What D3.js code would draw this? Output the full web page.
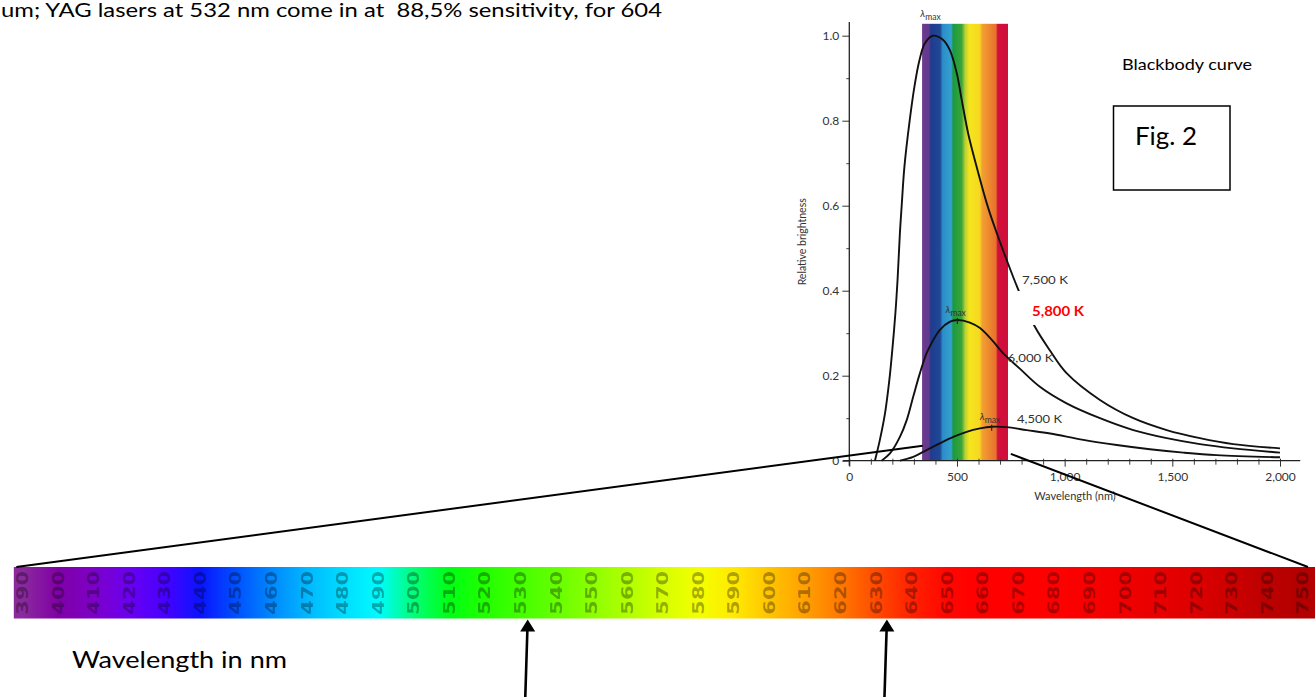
<!DOCTYPE html>
<html>
<head>
<meta charset="utf-8">
<script src="https://cdn.jsdelivr.net/npm/d3@7"></script>
<style>
body { margin: 0; background: #fff; }
svg { display: block; }
</style>
</head>
<body>
<div id="chart"></div>
<script>
// blackbody curves: [wavelength nm, relative brightness]
var curve7500 = [[119,0],[142,0.049],[166,0.112],[186,0.19],[201,0.268],[214,0.347],[224,0.425],[235,0.536],[243,0.598],[256,0.692],[280,0.799],[303,0.882],[326,0.943],[351,0.982],[387,1.0],[436,0.99],[467,0.966],[499,0.912],[522,0.849],[552,0.77],[591,0.692],[638,0.606],[676,0.548],[731,0.472],[785,0.402],[862,0.315],[931,0.26],[1009,0.206],[1164,0.143],[1319,0.1],[1474,0.072],[1628,0.053],[1783,0.039],[2000,0.029]];
var curve6000 = [[150,0],[189,0.017],[235,0.056],[267,0.096],[297,0.151],[328,0.206],[359,0.253],[390,0.284],[421,0.308],[468,0.327],[502,0.331],[560,0.325],[607,0.312],[669,0.28],[714,0.253],[793,0.216],[885,0.174],[1009,0.135],[1164,0.1],[1319,0.072],[1474,0.053],[1628,0.039],[1783,0.029],[2000,0.019]];
var curve4500 = [[235,0],[297,0.009],[359,0.025],[421,0.041],[483,0.056],[545,0.068],[607,0.076],[661,0.08],[731,0.079],[824,0.072],[933,0.064],[1087,0.049],[1242,0.037],[1396,0.027],[1551,0.019],[1706,0.013],[2000,0.008]];

var xTicks = [0, 500, 1000, 1500, 2000];
var xMinor = [100, 200, 300, 400, 600, 700, 800, 900, 1100, 1200, 1300, 1400, 1600, 1700, 1800, 1900];
var yTicks = [0, 0.2, 0.4, 0.6, 0.8, 1.0];
var yMinor = [0.1, 0.3, 0.5, 0.7, 0.9];

var bandRange = [338, 737];      // visible band drawn inside the chart
var bandTop = 1.028;
var peakNm = [385, 502, 661];    // lambda max marks
var peakVal = [1.028, 0.331, 0.080];

// spectrum strip
var stripLabels = [390,400,410,420,430,440,450,460,470,480,490,500,510,520,530,540,550,560,570,580,590,600,610,620,630,640,650,660,670,680,690,700,710,720,730,740,750];
var stripColors = ["#8a2a9c","#8000a6","#7d00c8","#6a00f0","#4800ff","#0a14ff","#0050ff","#0088ff","#00b8ff","#00dcff","#00fbff","#00ff78","#00ff14","#22ff00","#44ff00","#66ff00","#8cff00","#b0ff00","#d6ff00","#f4ff00","#ffea00","#ffc400","#ffa000","#ff7800","#ff4a00","#ff2200","#ff0600","#ff0000","#ff0000","#ff0000","#f80000","#f00000","#e80000","#dc0000","#cc0000","#bc0000","#b40000"];
var laserNm = [532, 633];

var width = 1315, height = 697;

var svg = d3.select("#chart").append("svg")
    .attr("width", width).attr("height", height);
svg.append("rect").attr("width", width).attr("height", height).attr("fill", "#fff");

var xScale = d3.scaleLinear().domain([0, 2000]).range([849.3, 1280]);
var yScale = d3.scaleLinear().domain([0, 1]).range([460.7, 35.7]);
var stripX = d3.scaleLinear().domain([390, 750]).range([22.7, 1303]);

var defs = svg.append("defs");

// band gradient inside the chart
var band = defs.append("linearGradient").attr("id", "band");
[[0,"#6c3a8e"],[0.08,"#63398e"],[0.1,"#1f3c8e"],[0.21,"#1f4896"],[0.24,"#2b8ec8"],[0.34,"#35a0cf"],[0.36,"#1a9a3e"],[0.46,"#3aa43a"],[0.5,"#b6d034"],[0.55,"#f5e51c"],[0.67,"#f6d820"],[0.7,"#f2a030"],[0.86,"#e8702e"],[0.88,"#d10f3a"],[1,"#cf0e3a"]]
    .forEach(function (s) { band.append("stop").attr("offset", s[0]).attr("stop-color", s[1]); });

// strip gradient
var stripStart = 387.5, stripEnd = 753.4;
var strip = defs.append("linearGradient").attr("id", "strip")
    .attr("gradientUnits", "userSpaceOnUse")
    .attr("x1", stripX(stripStart)).attr("x2", stripX(stripEnd)).attr("y1", 0).attr("y2", 0);
stripLabels.forEach(function (w, i) {
    strip.append("stop").attr("offset", (w - stripStart) / (stripEnd - stripStart)).attr("stop-color", stripColors[i]);
});

// top text
svg.append("text").attr("x", 1).attr("y", 17)
    .style("white-space", "pre")
    .attr("font-family", "Lato, 'Open Sans', sans-serif").attr("font-size", 18.5)
    .attr("textLength", 661).attr("lengthAdjust", "spacingAndGlyphs")
    .text("um; YAG lasers at 532 nm come in at  88,5% sensitivity, for 604");

// chart band
svg.append("rect")
    .attr("x", xScale(bandRange[0])).attr("y", yScale(bandTop))
    .attr("width", xScale(bandRange[1]) - xScale(bandRange[0]))
    .attr("height", yScale(0) - yScale(bandTop))
    .attr("fill", "url(#band)");

// axes
var axisFont = "Lato, 'DejaVu Sans', sans-serif";
var yAxis = d3.axisLeft(yScale).tickValues(yTicks).tickSize(7).tickPadding(3)
    .tickFormat(function (d) { return d === 0 ? "0" : d.toFixed(1); });
var gy = svg.append("g").attr("transform", "translate(" + xScale(0) + ",0)").call(yAxis);
gy.select(".domain").remove();
gy.selectAll("text").attr("font-family", axisFont).attr("font-size", 12).attr("fill", "#333");
gy.selectAll(".tick line").attr("stroke", "#333");

var gyMinor = svg.append("g").attr("transform", "translate(" + xScale(0) + ",0)")
    .call(d3.axisLeft(yScale).tickValues(yMinor).tickSize(3).tickFormat(""));
gyMinor.select(".domain").remove();
gyMinor.selectAll(".tick line").attr("stroke", "#444");

var xAxis = d3.axisBottom(xScale).tickValues(xTicks).tickSize(6).tickPadding(6)
    .tickFormat(d3.format(","));
var gx = svg.append("g").attr("transform", "translate(0," + yScale(0) + ")").call(xAxis);
gx.select(".domain").remove();
gx.selectAll(".tick line").attr("y1", -2).attr("stroke", "#333");
gx.selectAll("text").attr("font-family", axisFont).attr("font-size", 12).attr("fill", "#333");

var gxMinor = svg.append("g").attr("transform", "translate(0," + yScale(0) + ")")
    .call(d3.axisBottom(xScale).tickValues(xMinor).tickSize(4).tickFormat(""));
gxMinor.select(".domain").remove();
gxMinor.selectAll(".tick line").attr("y1", -2).attr("stroke", "#444");

svg.append("line")
    .attr("x1", xScale(0)).attr("x2", xScale(0))
    .attr("y1", yScale(1.032)).attr("y2", yScale(-0.012))
    .attr("stroke", "#222").attr("stroke-width", 1.3);
svg.append("line")
    .attr("x1", xScale(-30)).attr("x2", xScale(2094))
    .attr("y1", yScale(0)).attr("y2", yScale(0))
    .attr("stroke", "#222").attr("stroke-width", 1.3);

svg.append("text")
    .attr("transform", "translate(806," + yScale(0.515) + ") rotate(-90)")
    .attr("text-anchor", "middle")
    .attr("font-family", axisFont).attr("font-size", 10.5).attr("fill", "#333")
    .text("Relative brightness");
svg.append("text")
    .attr("x", 1075).attr("y", 500).attr("text-anchor", "middle")
    .attr("font-family", axisFont).attr("font-size", 11).attr("fill", "#333")
    .text("Wavelength (nm)");

// curves
var line = d3.line()
    .x(function (d) { return xScale(d[0]); })
    .y(function (d) { return yScale(d[1]); })
    .curve(d3.curveCatmullRom.alpha(0.5));

[curve7500, curve6000, curve4500].forEach(function (c) {
    svg.append("path").attr("d", line(c))
        .attr("fill", "none").attr("stroke", "#111").attr("stroke-width", 1.9);
});

// lambda max marks
peakNm.forEach(function (nm, i) {
    var px = xScale(nm), py = yScale(peakVal[i]);
    if (i > 0) {
        svg.append("line").attr("x1", px).attr("x2", px).attr("y1", py - 2).attr("y2", py + 4)
            .attr("stroke", "#222").attr("stroke-width", 1.2);
    }
    var t = svg.append("text").attr("x", px - 12).attr("y", py - 7)
        .attr("font-family", axisFont).attr("fill", "#333");
    t.append("tspan").attr("font-size", 10).attr("font-style", "italic").text("λ");
    t.append("tspan").attr("font-size", 8.5).attr("dy", 3).text("max");
});

// white box under the 5,800 K label hides part of the 7,500 K curve
svg.append("rect").attr("x", 1014).attr("y", 291).attr("width", 96).attr("height", 34).attr("fill", "#fff");

var curveLabels = [
    { text: "7,500 K", x: 1022, y: 284, w: 46 },
    { text: "6,000 K", x: 1007.5, y: 362, w: 46 },
    { text: "4,500 K", x: 1017, y: 423, w: 45 }
];
curveLabels.forEach(function (l) {
    svg.append("text").attr("x", l.x).attr("y", l.y)
        .attr("font-family", axisFont).attr("font-size", 12).attr("fill", "#333")
        .attr("textLength", l.w).attr("lengthAdjust", "spacingAndGlyphs")
        .text(l.text);
});
svg.append("text").attr("x", 1032).attr("y", 316)
    .attr("font-family", "Lato, 'Open Sans', sans-serif").attr("font-weight", "bold")
    .attr("font-size", 14).attr("fill", "#ff0000")
    .attr("textLength", 52).attr("lengthAdjust", "spacingAndGlyphs")
    .text("5,800 K");

// Blackbody curve / Fig. 2
svg.append("text").attr("x", 1122).attr("y", 70)
    .attr("font-family", "Lato, 'Open Sans', sans-serif").attr("font-size", 16)
    .attr("textLength", 130).attr("lengthAdjust", "spacingAndGlyphs")
    .text("Blackbody curve");
svg.append("rect").attr("x", 1113.5).attr("y", 106).attr("width", 116.5).attr("height", 84)
    .attr("fill", "none").attr("stroke", "#000").attr("stroke-width", 1.5);
svg.append("text").attr("x", 1135).attr("y", 145)
    .attr("font-family", "Lato, 'Open Sans', sans-serif").attr("font-size", 25)
    .attr("textLength", 62).attr("lengthAdjust", "spacingAndGlyphs")
    .text("Fig. 2");

// spectrum strip
var stripTop = 567, stripBottom = 618.5;
svg.append("rect")
    .attr("x", stripX(stripStart)).attr("y", stripTop)
    .attr("width", stripX(stripEnd) - stripX(stripStart)).attr("height", stripBottom - stripTop)
    .attr("fill", "url(#strip)");

svg.selectAll(".wl").data(stripLabels).enter().append("text")
    .attr("class", "wl")
    .attr("transform", function (d) {
        return "translate(" + stripX(d) + "," + ((stripTop + stripBottom) / 2) + ") rotate(-90) scale(1.4,1)";
    })
    .attr("text-anchor", "middle").attr("dominant-baseline", "central")
    .attr("font-family", "'DejaVu Sans', sans-serif").attr("font-size", 15).attr("font-weight", "bold")
    .attr("fill", "rgba(0,0,0,0.33)")
    .text(function (d) { return d; });

// zoom lines from chart band to strip
svg.append("line")
    .attr("x1", stripX(388.2)).attr("y1", stripTop)
    .attr("x2", xScale(341)).attr("y2", yScale(0.035))
    .attr("stroke", "#000").attr("stroke-width", 2);
svg.append("line")
    .attr("x1", xScale(750)).attr("y1", yScale(0.016))
    .attr("x2", stripX(751.4)).attr("y2", stripTop)
    .attr("stroke", "#000").attr("stroke-width", 2);

svg.append("text").attr("x", 72).attr("y", 668)
    .attr("font-family", "Lato, 'Open Sans', sans-serif").attr("font-size", 23)
    .attr("textLength", 215).attr("lengthAdjust", "spacingAndGlyphs")
    .text("Wavelength in nm");

// laser arrows
laserNm.forEach(function (nm) {
    var tx = stripX(nm), ty = stripBottom + 1;
    svg.append("line").attr("x1", tx - 0.3).attr("y1", ty + 10).attr("x2", tx - 2.5).attr("y2", height + 2)
        .attr("stroke", "#000").attr("stroke-width", 2.6);
    svg.append("path")
        .attr("d", "M" + tx + "," + ty + " L" + (tx - 7.5) + "," + (ty + 12) + " L" + (tx + 7.5) + "," + (ty + 12) + " Z")
        .attr("fill", "#000");
});
</script>
</body>
</html>
